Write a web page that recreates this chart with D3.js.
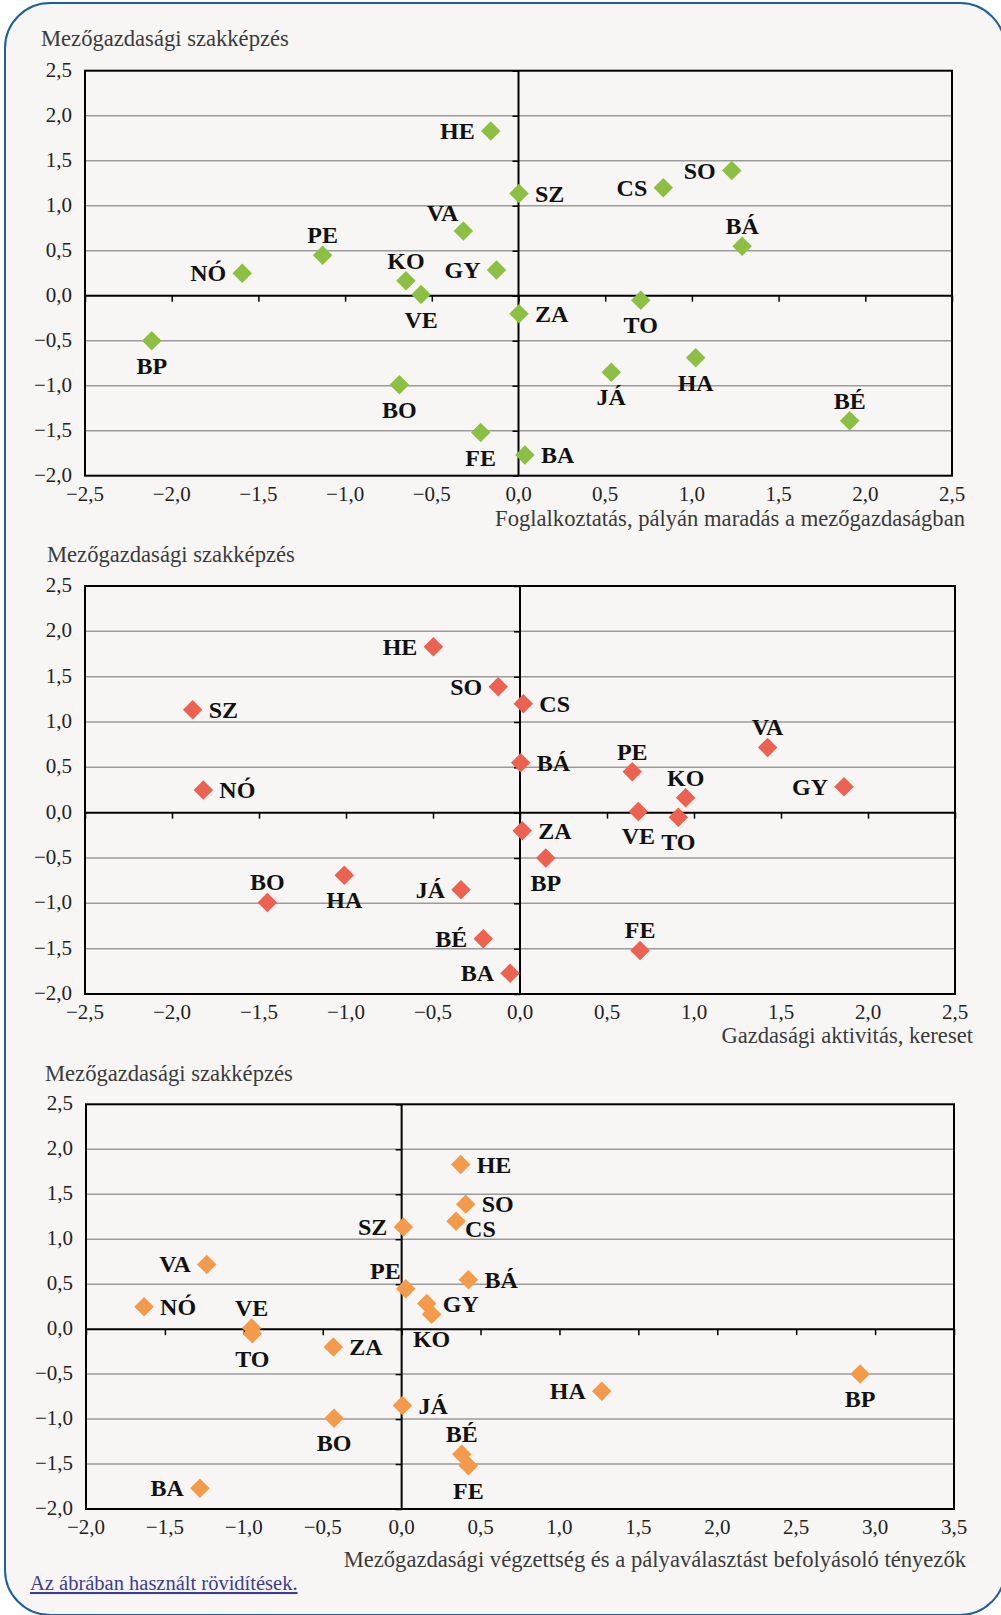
<!doctype html>
<html>
  <head>
    <meta charset="utf-8" />
    <title>Mezőgazdasági szakképzés</title>
    <style>
      body { margin: 0; background: #fff; }
      svg { display: block; }
      text { font-family: "Liberation Serif", serif; }
    </style>
  </head>
  <body>
    <div id="chart"></div>
    <script src="https://d3js.org/d3.v7.min.js"></script>
    <script>
      // county codes (same order in every series)
      const codes = ["HE", "SO", "CS", "SZ", "VA", "BÁ", "PE", "GY", "NÓ", "KO",
                     "VE", "TO", "ZA", "BP", "HA", "JÁ", "BO", "BÉ", "FE", "BA"];

      // vertical axis of every panel
      const agriTraining = [1.83, 1.39, 1.20, 1.135, 0.72, 0.55, 0.45, 0.285, 0.25, 0.165,
                            0.013, -0.05, -0.20, -0.50, -0.69, -0.85, -0.99, -1.39, -1.52, -1.77];

      // horizontal axes
      const employment = [-0.16, 1.23, 0.835, 0.003, -0.318, 1.29, -1.13, -0.127, -1.593, -0.649,
                          -0.562, 0.705, 0.003, -2.115, 1.022, 0.535, -0.687, 1.91, -0.218, 0.037];
      const economy = [-0.498, -0.125, 0.019, -1.881, 1.423, 0.004, 0.645, 1.862, -1.82, 0.952,
                       0.68, 0.91, 0.013, 0.148, -1.01, -0.339, -1.452, -0.211, 0.69, -0.057];
      const education = [0.374, 0.406, 0.345, 0.011, -1.235, 0.423, 0.026, 0.159, -1.632, 0.19,
                         -0.95, -0.946, -0.433, 2.905, 1.268, 0.005, -0.428, 0.381, 0.423, -1.278];

      const yTicks = [-2, -1.5, -1, -0.5, 0, 0.5, 1, 1.5, 2, 2.5];
      const xTicks1 = [-2.5, -2, -1.5, -1, -0.5, 0, 0.5, 1, 1.5, 2, 2.5];
      const xTicks3 = [-2, -1.5, -1, -0.5, 0, 0.5, 1, 1.5, 2, 2.5, 3, 3.5];

      const yTitle = "Mezőgazdasági szakképzés";
      const xTitles = [
        "Foglalkoztatás, pályán maradás a mezőgazdaságban",
        "Gazdasági aktivitás, kereset",
        "Mezőgazdasági végzettség és a pályaválasztást befolyásoló tényezők"
      ];

      // where each label sits relative to its marker
      const place1 = ["l", "l", "l", "r", "al", "a", "a", "l", "l", "a",
                      "b", "b", "r", "b", "b", "b", "b", "a", "b", "r"];
      const place2 = ["l", "l", "r", "r", "a", "r", "a", "l", "r", "a",
                      "b", "b", "r", "b", "b", "l", "a", "l", "a", "l"];
      const place3 = ["r", "r", "br", "l", "l", "r", "al", "r", "r", "b",
                      "a", "b", "r", "b", "l", "r", "b", "a", "b", "l"];

      const fmt = (v) => d3.format(".1f")(v).replace(".", ",").replace("-", "–");

      const W = 1001, H = 1615;
      const svg = d3.select("#chart").append("svg").attr("width", W).attr("height", H);

      svg.append("rect")
        .attr("x", 5).attr("y", 3).attr("width", 1000).attr("height", 1612)
        .attr("rx", 45).attr("ry", 45)
        .attr("fill", "#f7f6f4").attr("stroke", "#1f5f9f").attr("stroke-width", 2);

      const panels = [
        { xs: employment, place: place1, color: "#8cc043", domain: [-2.5, 2.5], ticks: xTicks1,
          box: { l: 85, r: 952, t: 70.7, b: 475.7 }, ty: { x: 41, y: 46 }, tx: { x: 965, y: 526 } },
        { xs: economy, place: place2, color: "#ec6150", domain: [-2.5, 2.5], ticks: xTicks1,
          box: { l: 85, r: 955, t: 586, b: 994 }, ty: { x: 47, y: 562 }, tx: { x: 973, y: 1043 } },
        { xs: education, place: place3, color: "#f39a4b", domain: [-2, 3.5], ticks: xTicks3,
          box: { l: 86, r: 954, t: 1104.3, b: 1509 }, ty: { x: 45, y: 1081 }, tx: { x: 966, y: 1567 } }
      ];

      panels.forEach((p, i) => {
        const g = svg.append("g");
        const x = d3.scaleLinear().domain(p.domain).range([p.box.l, p.box.r]);
        const y = d3.scaleLinear().domain([-2, 2.5]).range([p.box.b, p.box.t]);

        // grid
        g.append("g").selectAll("line").data(yTicks.filter((t) => t !== 0 && t !== -2 && t !== 2.5))
          .join("line")
          .attr("x1", p.box.l).attr("x2", p.box.r)
          .attr("y1", (d) => y(d)).attr("y2", (d) => y(d))
          .attr("stroke", "#9b9b9b").attr("stroke-width", 1.5);

        // axes crossing at zero
        const xAxis = d3.axisBottom(x).tickValues(p.ticks).tickSize(6).tickFormat("");
        const yAxis = d3.axisLeft(y).tickValues(yTicks).tickSize(6).tickFormat("");
        g.append("g").attr("transform", `translate(0,${y(0)})`).call(xAxis)
          .call((a) => a.select(".domain").remove())
          .call((a) => a.selectAll("line").attr("stroke", "#000").attr("stroke-width", 1.5));
        g.append("g").attr("transform", `translate(${x(0)},0)`).call(yAxis)
          .call((a) => a.select(".domain").remove())
          .call((a) => a.selectAll("line").attr("stroke", "#000").attr("stroke-width", 1.5));
        g.append("line").attr("x1", p.box.l).attr("x2", p.box.r)
          .attr("y1", y(0)).attr("y2", y(0)).attr("stroke", "#000").attr("stroke-width", 2);
        g.append("line").attr("x1", x(0)).attr("x2", x(0))
          .attr("y1", p.box.t).attr("y2", p.box.b).attr("stroke", "#000").attr("stroke-width", 2);

        g.append("rect")
          .attr("x", p.box.l).attr("y", p.box.t)
          .attr("width", p.box.r - p.box.l).attr("height", p.box.b - p.box.t)
          .attr("fill", "none").attr("stroke", "#000").attr("stroke-width", 2);

        // tick labels
        g.append("g").selectAll("text").data(yTicks).join("text")
          .attr("x", p.box.l - 13).attr("y", (d) => y(d) + 6)
          .attr("text-anchor", "end").attr("font-size", 21).attr("fill", "#222")
          .text(fmt);
        g.append("g").selectAll("text").data(p.ticks).join("text")
          .attr("x", (d) => x(d)).attr("y", p.box.b + 25)
          .attr("text-anchor", "middle").attr("font-size", 21).attr("fill", "#222")
          .text(fmt);

        // titles
        g.append("text").attr("x", p.ty.x).attr("y", p.ty.y)
          .attr("font-size", 22.6).attr("fill", "#3a3a3a").text(yTitle);
        g.append("text").attr("x", p.tx.x).attr("y", p.tx.y).attr("text-anchor", "end")
          .attr("font-size", 22.6).attr("fill", "#3a3a3a").text(xTitles[i]);

        const pts = codes.map((c, k) => ({ code: c, x: p.xs[k], y: agriTraining[k], pos: p.place[k] }));

        g.append("g").selectAll("path").data(pts).join("path")
          .attr("d", d3.symbol(d3.symbolSquare, 190))
          .attr("transform", (d) => `translate(${x(d.x)},${y(d.y)}) rotate(45)`)
          .attr("fill", p.color);

        const off = {
          l: [-16, 8, "end"], r: [16, 8, "start"], a: [0, -12, "middle"], b: [0, 33, "middle"],
          al: [-5, -10, "end"], br: [9, 16, "start"]
        };
        g.append("g").selectAll("text").data(pts).join("text")
          .attr("x", (d) => x(d.x) + off[d.pos][0])
          .attr("y", (d) => y(d.y) + off[d.pos][1])
          .attr("text-anchor", (d) => off[d.pos][2])
          .attr("font-size", 24).attr("font-weight", "bold").attr("fill", "#111")
          .text((d) => d.code);
      });

      svg.append("text")
        .attr("x", 30).attr("y", 1590)
        .attr("font-size", 20.5).attr("fill", "#3b3b96")
        .attr("text-decoration", "underline")
        .text("Az ábrában használt rövidítések.");
    </script>
  </body>
</html>
